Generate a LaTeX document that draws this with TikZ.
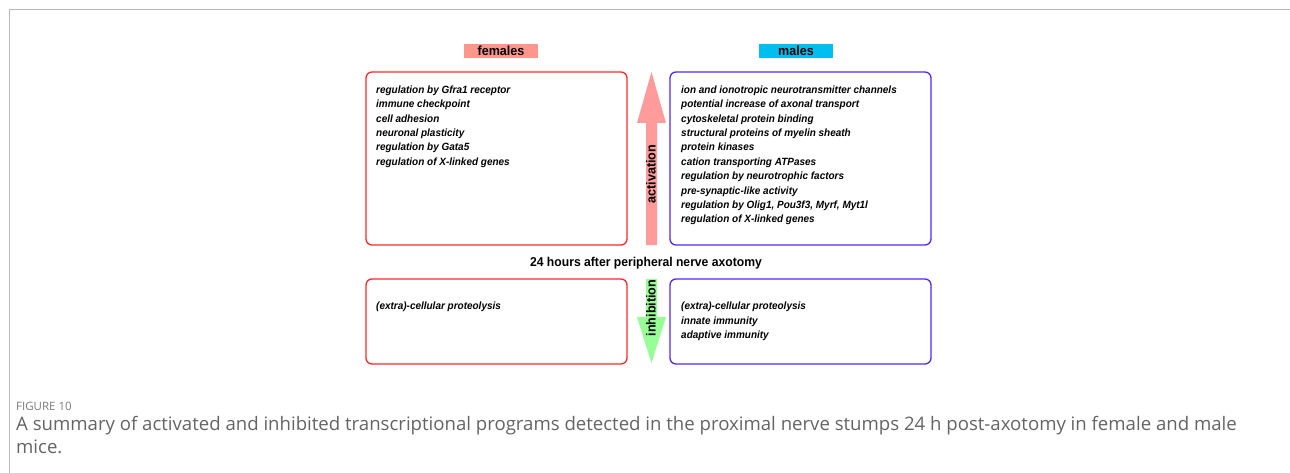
\documentclass[tikz,border=0pt]{standalone}
\usepackage{fontspec}
\setmainfont{Liberation Sans}
\newfontfamily\boxfont[FakeStretch=0.95]{Liberation Sans}
\newfontfamily\capfont{Open Sans}
\usepackage{xcolor}
\definecolor{femred}{RGB}{255,40,40}
\definecolor{maleblue}{RGB}{80,40,255}
\definecolor{femlabel}{RGB}{255,150,140}
\definecolor{malelabel}{RGB}{0,190,240}
\definecolor{actpink}{RGB}{255,155,155}
\definecolor{inhgreen}{RGB}{150,255,150}
\definecolor{capgray}{RGB}{100,100,100}
\tikzset{%
    progbox/.style={draw=#1, line width=1.3pt, rounded corners=6pt,
        minimum width=261pt, minimum height=173pt, inner sep=0pt},
    items/.style={anchor=north west, inner sep=0pt, align=left,
        font={\boxfont\bfseries\itshape\fontsize{10.5}{14.4}\selectfont}},
    sexlabel/.style={fill=#1, minimum width=74pt, minimum height=14pt, inner sep=0pt,
        font={\boxfont\bfseries\fontsize{13.2}{13.2}\selectfont}},
    arrowtext/.style={rotate=90, inner sep=0pt,
        font={\boxfont\bfseries\fontsize{13.2}{13.2}\selectfont}},
    captext/.style={anchor=base west, inner sep=0pt, text=capgray,
        font={\capfont\fontsize{18.6}{23}\selectfont}}
}

\begin{document}
\begin{tikzpicture}[x=1pt,y=-1pt]
    \useasboundingbox (0,0) rectangle (1290,473);
    % frame
    \draw[gray!55,line width=1pt] (9,473)--(9,10)--(1290,10);

    \node[sexlabel=femlabel] (females) at (501,51) {females};
    \node[sexlabel=malelabel] (males) at (796,51) {males};

    % activated programs
    \node[progbox=femred] (fup) at (496.5,158.5) {};
    \node[progbox=maleblue] (mup) at (800.5,158.5) {};
    \node[items] (fuptext) at (376,85.5) {regulation by Gfra1 receptor\\immune checkpoint\\cell adhesion\\neuronal plasticity\\regulation by Gata5\\regulation of X-linked genes};
    \node[items] (muptext) at (681,85.5) {ion and ionotropic neurotransmitter channels\\potential increase of axonal transport\\cytoskeletal protein binding\\structural proteins of myelin sheath\\protein kinases\\cation transporting ATPases\\regulation by neurotrophic factors\\pre-synaptic-like activity\\regulation by Olig1, Pou3f3, Myrf, Myt1l\\regulation of X-linked genes};

    \fill[actpink] (646,245)--(646,123)--(637,123)--(651.5,72)--(666,123)--(657,123)--(657,245)--cycle;
    \node[arrowtext] (act) at (651,174) {activation};

    \node[font={\boxfont\bfseries\fontsize{12.8}{12.8}\selectfont}] (title) at (646,263) {24 hours after peripheral nerve axotomy};

    % inhibited programs
    \node[progbox=femred,minimum height=85pt] (fdown) at (496.5,321.5) {};
    \node[progbox=maleblue,minimum height=85pt] (mdown) at (800.5,321.5) {};
    \node[items] (fdowntext) at (376,302) {(extra)-cellular proteolysis};
    \node[items] (mdowntext) at (681,302) {(extra)-cellular proteolysis\\innate immunity\\adaptive immunity};

    \fill[inhgreen] (646,279)--(646,317)--(637,317)--(651.5,363)--(666,317)--(657,317)--(657,279)--cycle;
    \node[arrowtext] (inh) at (651,308) {inhibition};

    % caption
    \node[anchor=base west,inner sep=0pt,text=capgray!85,font={\capfont\fontsize{11.5}{11.5}\selectfont}] (fig) at (16,410) {FIGURE 10};
    \node[captext] (caption) at (16,430) {A summary of activated and inhibited transcriptional programs detected in the proximal nerve stumps 24 h post-axotomy in female and male};
    \node[captext] (captionend) at (16,453) {mice.};
\end{tikzpicture}
\end{document}
